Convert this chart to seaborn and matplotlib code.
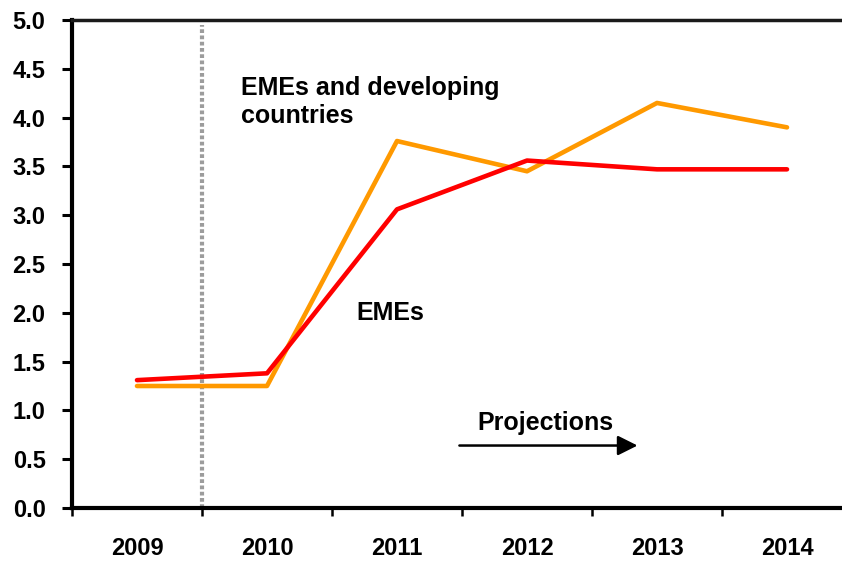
import matplotlib
matplotlib.use("Agg")
import matplotlib.pyplot as plt
import seaborn as sns
import pandas as pd

years = [2009, 2010, 2011, 2012, 2013, 2014]
emes_developing = [1.25, 1.25, 3.76, 3.45, 4.15, 3.90]
emes = [1.31, 1.38, 3.06, 3.56, 3.47, 3.47]
series_names = ["EMEs and developing countries", "EMEs"]
series_colors = ["#FF9900", "#FF0000"]
y_ticks = [0.0, 0.5, 1.0, 1.5, 2.0, 2.5, 3.0, 3.5, 4.0, 4.5, 5.0]

df = pd.DataFrame({
    "year": years * 2,
    "value": emes_developing + emes,
    "series": [series_names[0]] * len(years) + [series_names[1]] * len(years),
})

sns.set_style("white")
plt.rcParams["font.family"] = ["Liberation Sans", "DejaVu Sans"]
plt.rcParams["font.weight"] = "bold"
plt.rcParams["text.color"] = "black"
plt.rcParams["xtick.color"] = "black"
plt.rcParams["ytick.color"] = "black"

fig = plt.figure(figsize=(8.42, 5.61), dpi=100)
ax = fig.add_axes([72 / 842, 1 - 508 / 561, 780 / 842, 488 / 561])

sns.lineplot(data=df, x="year", y="value", hue="series",
             palette=dict(zip(series_names, series_colors)),
             linewidth=3.3, legend=False, ax=ax, zorder=3)

# boundary between actual and projected data
ax.axvline(2009.5, ymin=0, ymax=0.99, color="#9C9C9C", lw=3.0,
           linestyle=(0, (0.9, 0.6)), zorder=2)

ax.set_xlim(2008.5, 2014.5)
ax.set_ylim(0, 5.0)
ax.set_xlabel("")
ax.set_ylabel("")

# category boundaries carry the tick marks, centres carry the labels
ax.set_xticks([y - 0.5 for y in years] + [years[-1] + 0.5])
ax.set_xticklabels([])
ax.set_xticks(years, minor=True)
ax.set_xticklabels([str(y) for y in years], minor=True)
ax.tick_params(axis="x", which="major", direction="out", length=6, width=1.8,
               color="black", bottom=True)
ax.tick_params(axis="x", which="minor", length=0, pad=21, labelsize=17,
               bottom=True, labelcolor="black")

ax.set_yticks(y_ticks)
ax.set_yticklabels([f"{v:.1f}" for v in y_ticks])
ax.tick_params(axis="y", direction="out", length=7, width=2.2, color="black",
               pad=12, labelsize=17, left=True, labelcolor="black")

for lbl in ax.get_xticklabels(minor=True) + ax.get_yticklabels():
    lbl.set_fontweight("bold")

for side in ["left", "bottom"]:
    ax.spines[side].set_visible(True)
    ax.spines[side].set_color("black")
    ax.spines[side].set_linewidth(3.0)
ax.spines["top"].set_visible(True)
ax.spines["top"].set_color("#1a1a1a")
ax.spines["top"].set_linewidth(2.5)
ax.spines["right"].set_visible(False)
ax.grid(False)

ax.text(2009.8, 4.16, "EMEs and developing\ncountries", fontsize=18,
        fontweight="bold", ha="left", va="center", linespacing=1.2,
        color="black")
ax.text(2010.69, 2.0, "EMEs", fontsize=18, fontweight="bold",
        ha="left", va="center", color="black")
ax.text(2011.615, 0.87, "Projections", fontsize=18, fontweight="bold",
        ha="left", va="center", color="black")
ax.annotate("", xy=(2012.85, 0.64), xytext=(2011.48, 0.64),
            arrowprops=dict(arrowstyle="-|>,head_length=0.6,head_width=0.3",
                            mutation_scale=20, color="black", lw=1.8,
                            shrinkA=0, shrinkB=0))

fig.savefig("out.png", dpi=100)
